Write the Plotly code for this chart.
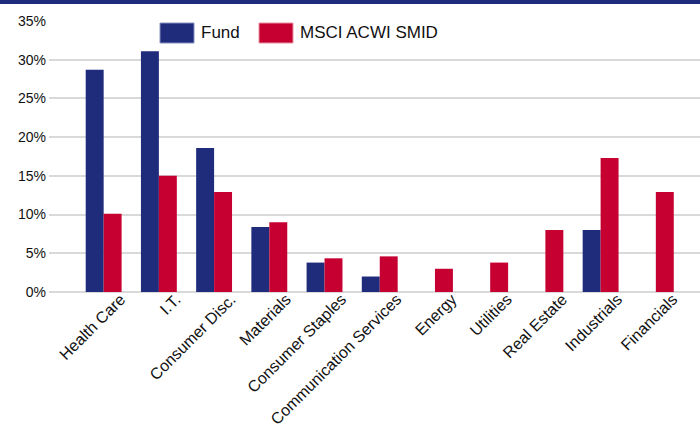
import plotly.graph_objects as go

categories = ["Health Care", "I.T.", "Consumer Disc.", "Materials", "Consumer Staples",
              "Communication Services", "Energy", "Utilities", "Real Estate", "Industrials", "Financials"]
fund = [28.7, 31.1, 18.6, 8.4, 3.8, 2.0, None, None, None, 8.0, None]
msci = [10.1, 15.0, 12.9, 9.0, 4.35, 4.6, 3.0, 3.8, 8.0, 17.3, 12.9]
series_names = ["Fund", "MSCI ACWI SMID"]
y_ticks = [0, 5, 10, 15, 20, 25, 30, 35]

NAVY = "#1F2B7B"
RED = "#C70032"

fig = go.Figure()
fig.add_trace(go.Bar(x=categories, y=fund, name=series_names[0], marker_color=NAVY,
                     marker_line_width=0, showlegend=False))
fig.add_trace(go.Bar(x=categories, y=msci, name=series_names[1], marker_color=RED,
                     marker_line_width=0, showlegend=False))

W, H = 700, 434
ml, mr, mt, mb = 49, 0, 21, 142
pw = W - ml - mr
ph = H - mt - mb

def px_x(x):
    return (x - ml) / pw

def px_y(y):
    return 1 - (y - mt) / ph

shapes = [
    dict(type="rect", xref="paper", yref="paper", x0=px_x(0), x1=px_x(W), y0=px_y(4), y1=px_y(0),
         fillcolor=NAVY, line_width=0, layer="above"),
    dict(type="rect", xref="paper", yref="paper", x0=px_x(160), x1=px_x(194), y0=px_y(43), y1=px_y(23),
         fillcolor=NAVY, line=dict(color="#8890C0", width=1)),
    dict(type="rect", xref="paper", yref="paper", x0=px_x(259), x1=px_x(293), y0=px_y(43), y1=px_y(23),
         fillcolor=RED, line=dict(color="#E890A0", width=1)),
]
legend_font = dict(family="Liberation Sans, Arial", size=17, color="#111111")
annotations = [
    dict(xref="paper", yref="paper", x=px_x(199), y=px_y(33), text=series_names[0], showarrow=False,
         xanchor="left", yanchor="middle", font=legend_font),
    dict(xref="paper", yref="paper", x=px_x(298), y=px_y(33), text=series_names[1], showarrow=False,
         xanchor="left", yanchor="middle", font=legend_font),
]

fig.update_layout(
    width=W, height=H,
    margin=dict(l=ml, r=mr, t=mt, b=mb),
    paper_bgcolor="white", plot_bgcolor="white",
    barmode="group", bargap=0.35, bargroupgap=0,
    font=dict(family="Liberation Sans, Arial", size=14, color="#111111"),
    shapes=shapes, annotations=annotations,
    xaxis=dict(range=[-0.99, 10.8], tickangle=-45, showgrid=False, showline=False,
               ticks="", tickfont=dict(size=16), ticklabelshift=17, ticklabelstandoff=-6),
    yaxis=dict(range=[0, 35], tickvals=y_ticks, ticktext=[f"{v}%" for v in y_ticks],
               showgrid=True, gridcolor="#D9D9D9", gridwidth=2, zeroline=True,
               zerolinecolor="#D9D9D9", zerolinewidth=2, showline=False, ticks="",
               tickfont=dict(size=14), ticklabelstandoff=2),
)

fig.write_html("out.html", config={"displayModeBar": False},
               post_script="document.body.style.margin='0';document.body.style.padding='0';")
